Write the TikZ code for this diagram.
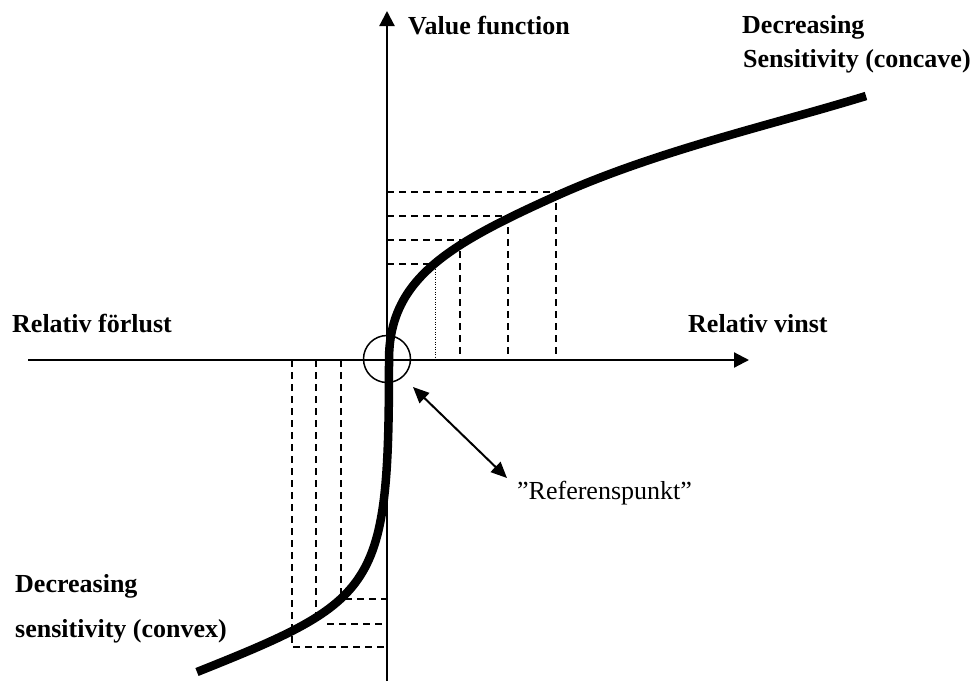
\documentclass[tikz,border=0pt]{standalone}
\usepackage{fontspec}
\setmainfont{Liberation Serif}
\usetikzlibrary{arrows.meta}
\begin{document}
\begin{tikzpicture}[x=1pt,y=-1pt,
  axisline/.style={line width=2.2pt,-{Triangle[length=15pt,width=15pt]}},
  lbl/.style={font=\fontsize{26}{30}\selectfont\bfseries,inner sep=0pt,anchor=base west},
  plain/.style={font=\fontsize{26}{30}\selectfont,inner sep=0pt,anchor=base west},
  guide/.style={line width=1.8pt,dash pattern=on 7pt off 5pt},
  dotline/.style={line width=1pt,dash pattern=on 1pt off 1.5pt},
  curve/.style={line width=8.5pt,line cap=butt}]
\useasboundingbox (0,0) rectangle (978,681);
% axes
\coordinate (xl) at (28,360);
\coordinate (xr) at (749,360);
\coordinate (yb) at (387,681);
\coordinate (yt) at (387,11);
\draw[axisline] (xl) -- (xr);
\draw[axisline] (yb) -- (yt);
% dashed guides (gains)
\draw[guide] (387,192) -- (556,192) -- (556,360);
\draw[guide] (387,216) -- (508,216) -- (508,360);
\draw[guide] (387,240) -- (460,240) -- (460,360);
\draw[guide] (387,264) -- (435,264);
\draw[dotline] (435,264) -- (435,360);
% dashed guides (losses)
\draw[guide] (341,360) -- (341,598);
\draw[guide] (316,360) -- (316,618);
\draw[guide] (292,360) -- (292,647) -- (387,647);
\draw[guide] (345,599) -- (387,599);
\draw[guide] (327,624) -- (387,624);
% value function
\coordinate (c0) at (197,672);
\coordinate (c1) at (389,360);
\coordinate (c2) at (556,196);
\coordinate (c3) at (866,96);
\draw[curve] (c0) .. controls (377,600) and (389,590) .. (c1)
  .. controls (389,280) and (446,245.5) .. (c2)
  .. controls (656,151) and (768,126) .. (c3);
% reference point
\node[circle,draw,line width=1.5pt,minimum size=47pt,inner sep=0pt] (ref) at (387,359) {};
\node[plain] (reftxt) at (517,499) {”Referenspunkt”};
\coordinate (arrA) at (413,387);
\coordinate (arrB) at (507,478);
\draw[line width=2pt,{Triangle[length=16pt,width=14pt]}-{Triangle[length=16pt,width=14pt]}] (arrA) -- (arrB);
% labels
\node[lbl] (vf) at (408,34) {Value function};
\node[lbl] (rf) at (12,332) {Relativ förlust};
\node[lbl] (rv) at (688,332) {Relativ vinst};
\node[lbl] (d1) at (742,33) {Decreasing};
\node[lbl] (s1) at (743,67) {Sensitivity (concave)};
\node[lbl] (d2) at (15,592) {Decreasing};
\node[lbl] (s2) at (15,637) {sensitivity (convex)};
\end{tikzpicture}
\end{document}
